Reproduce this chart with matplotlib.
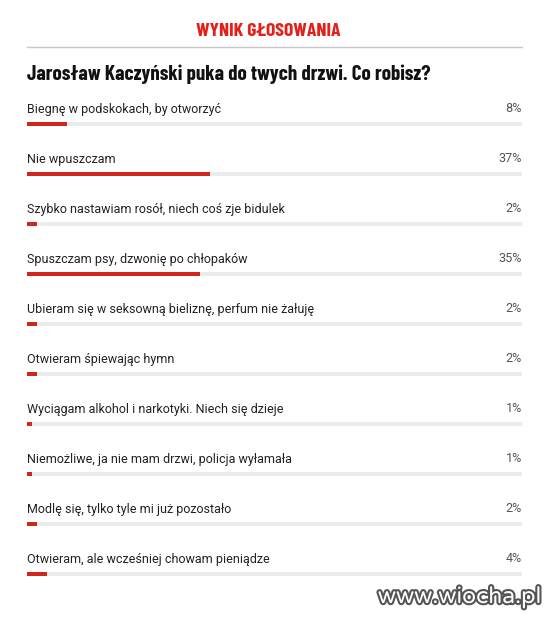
import matplotlib.pyplot as plt
import matplotlib.patheffects as pe
from matplotlib import font_manager

# poll answers and their shares (percent)
answers = [
    "Biegnę w podskokach, by otworzyć",
    "Nie wpuszczam",
    "Szybko nastawiam rosół, niech coś zje bidulek",
    "Spuszczam psy, dzwonię po chłopaków",
    "Ubieram się w seksowną bieliznę, perfum nie żałuję",
    "Otwieram śpiewając hymn",
    "Wyciągam alkohol i narkotyki. Niech się dzieje",
    "Niemożliwe, ja nie mam drzwi, policja wyłamała",
    "Modlę się, tylko tyle mi już pozostało",
    "Otwieram, ale wcześniej chowam pieniądze",
]
shares = [8, 37, 2, 35, 2, 2, 1, 1, 2, 4]

header = "WYNIK GŁOSOWANIA"
question = "Jarosław Kaczyński puka do twych drzwi. Co robisz?"
watermark = "www.wiocha.pl"

RED = "#d0261d"
TRACK = "#ececec"

names = {f.name for f in font_manager.fontManager.ttflist}


def pick(*options):
    for name in options:
        if name in names:
            return [name, "DejaVu Sans"]
    return ["DejaVu Sans"]


narrow = pick("Barlow Condensed", "Roboto Condensed", "Asap Condensed", "Roboto")
body = pick("Roboto", "Open Sans")
rounded = pick("Varela Round", "Nunito", "M PLUS Rounded 1c", "Comfortaa", "DejaVu Sans")

W, H = 558, 620
fig = plt.figure(figsize=(W / 100, H / 100), dpi=100)
ax = fig.add_axes([0, 0, 1, 1])
ax.set_xlim(0, W)
ax.set_ylim(H, 0)
ax.axis("off")

left, right = 27, 522
track_w = right - left

ax.text(268, 32, header, color="#e3201b", fontsize=14.2, fontweight="bold",
        family=narrow, ha="center", va="center")
ax.plot([left, right], [47, 47], color="#c8c8c8", lw=1)
ax.text(left, 74, question, color="#111111", fontsize=15.1, fontweight="bold",
        family=narrow, ha="left", va="center")

rows = [109 + 50 * i for i in range(len(answers))]
bar_y = [r + 15 for r in rows]

ax.barh(bar_y, [track_w] * len(answers), left=left, height=3.2, color=TRACK)
ax.barh(bar_y, [s / 100 * track_w for s in shares], left=left, height=3.6, color=RED)

for y, label, s in zip(rows, answers, shares):
    ax.text(left, y, label, color="#222222", fontsize=9.0, family=body,
            ha="left", va="center")
    ax.text(right, y, f"{s}%", color="#555555", fontsize=9.1, family=body,
            ha="right", va="center")

ax.text(541, 597, watermark, color="white", fontsize=16.5, fontweight="bold",
        family=rounded, ha="right", va="center",
        path_effects=[pe.withStroke(linewidth=3, foreground="#555555")])

fig.savefig("out.png", dpi=100, facecolor="white")
